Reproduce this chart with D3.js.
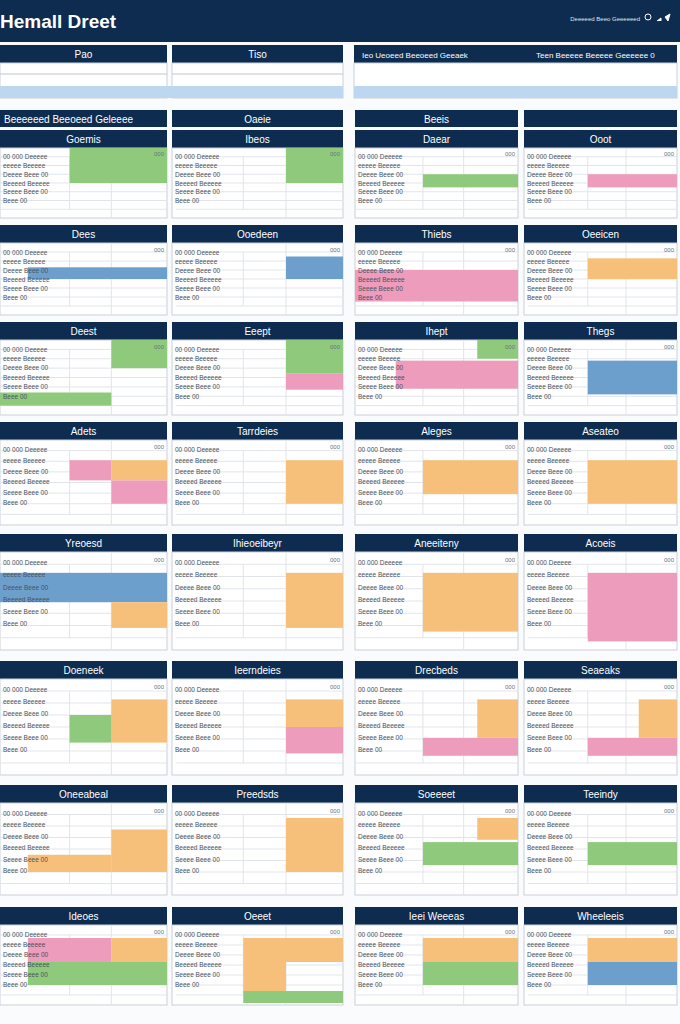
<!DOCTYPE html>
<html><head><meta charset="utf-8">
<script src="https://cdn.jsdelivr.net/npm/d3@7"></script>
<style>body{margin:0;background:#fff}svg{display:block}</style>
</head><body><div id="chart"></div>
<script>
// panel titles, row by row
const titles = [
  ["Goemis", "Ibeos", "Daear", "Ooot"],
  ["Dees", "Ooedeen", "Thiebs", "Oeeicen"],
  ["Deest", "Eeept", "Ihept", "Thegs"],
  ["Adets", "Tarrdeies", "Aleges", "Aseateo"],
  ["Yreoesd", "Ihieoeibeyr", "Aneeiteny", "Acoeis"],
  ["Doeneek", "Ieerndeies", "Drecbeds", "Seaeaks"],
  ["Oneeabeal", "Preedsds", "Soeeeet", "Teeindy"],
  ["Ideoes", "Oeeet", "Ieei Weeeas", "Wheeleeis"]
];
// coloured cells per panel: [col0, col1, row0, row1, colour] on a 12 x 8 grid
const cells = [
  [[[5,12,0,4,"g"]], [[8,12,0,4,"g"]], [[5,12,3,4.5,"g"]], [[5,12,3,4.5,"p"]]],
  [[[2,12,2.7,4,"b"]], [[8,12,1.5,4,"b"]], [[0,12,3,6.5,"p"]], [[5,12,1.7,4,"o"]]],
  [[[8,12,0,3,"g"],[0,8,5.6,7,"g"]], [[8,12,0,3.6,"g"],[8,12,3.6,5.3,"p"]], [[9,12,0,2,"g"],[3,12,2.2,5.2,"p"]], [[5,12,2.2,5.8,"b"]]],
  [[[5,8,1.9,3.8,"p"],[8,12,1.9,3.8,"o"],[8,12,3.8,6,"p"]], [[8,12,1.9,6,"o"]], [[5,12,1.9,5.1,"o"]], [[5,12,1.9,6,"o"]]],
  [[[0,12,1.7,4.1,"b"],[8,12,4.1,6.2,"o"]], [[8,12,1.7,6.2,"o"]], [[5,12,1.7,6.5,"o"]], [[5,12,1.7,7.3,"p"]]],
  [[[8,12,1.7,5.3,"o"],[5,8,3,5.3,"g"]], [[8,12,1.7,4,"o"],[8,12,4,6.2,"p"]], [[9,12,1.7,4.9,"o"],[5,12,4.9,6.4,"p"]], [[9,12,1.7,4.9,"o"],[5,12,4.9,6.4,"p"]]],
  [[[8,12,2.3,6,"o"],[2,8,4.5,6,"o"]], [[8,12,1.3,6,"o"]], [[9,12,1.3,3.2,"o"],[5,12,3.4,5.4,"g"]], [[5,12,3.4,5.4,"g"]]],
  [[[2,8,1.3,3.7,"p"],[8,12,1.3,3.7,"o"],[2,12,3.7,6,"g"]], [[5,12,1.3,3.7,"o"],[5,8,3.7,6.6,"o"],[5,12,6.6,7.8,"g"]], [[5,12,1.3,3.7,"o"],[5,12,3.7,6,"g"]], [[5,12,1.3,3.7,"o"],[5,12,3.7,6,"b"]]]
];
const topTitles = ["Pao", "Tiso"];
const wideTitles = ["Ieo Ueoeed Beeoeed Geeaek", "Teen Beeeee Beeeee Geeeeee 0"];
const sectionTitles = ["Beeeeeed Beeoeed Geleeee", "Oaeie", "Beeis", ""];
const fillers = ["00 000 Deeeee", "eeeee Beeeee", "Deeee Beee 00", "Beeeed Beeeee", "Seeee Beee 00", "Beee 00"];

const W = 680, H = 1024, navy = "#0d2c4f";
const palette = {g:"#8fca7c", p:"#ee9cbb", o:"#f7c07a", b:"#6d9fcd"};
const font = "Arial, Liberation Sans, sans-serif";
const colX = [[0,167],[172,343],[355,518],[524,677]];
const rowY = [[130,218],[225,315],[322,415],[422,525],[534,650],[661,775],[785,895],[907,1005]];

const svg = d3.select("#chart").append("svg").attr("width", W).attr("height", H);
svg.append("rect").attr("width", W).attr("height", H).attr("fill", "#fafbfc");

// title bar
svg.append("rect").attr("width", W).attr("height", 42).attr("fill", navy);
svg.append("text").attr("x", 0).attr("y", 28).attr("fill", "#fff").style("font-family", font)
  .style("font-size", "19px").style("font-weight", "bold").text("Hemall Dreet");
svg.append("text").attr("x", 640).attr("y", 21).attr("text-anchor", "end").attr("fill", "#dfe6ee")
  .style("font-family", font).style("font-size", "6px").text("Deeeeed  Beeo  Geeeeeed");
svg.append("circle").attr("cx", 648).attr("cy", 17).attr("r", 3).attr("fill", "none").attr("stroke", "#fff");
svg.append("path").attr("d", "M657,21 L661,18 L661,21 M665,17 L670,14 L668,21 Z").attr("fill", "#fff").attr("stroke", "#fff");

function header(x0, x1, y, h, text, anchor) {
  svg.append("rect").attr("x", x0).attr("y", y).attr("width", x1 - x0).attr("height", h).attr("fill", navy);
  svg.append("text").attr("x", anchor === "start" ? x0 + 4 : (x0 + x1) / 2).attr("y", y + h / 2 + 4)
    .attr("text-anchor", anchor || "middle").attr("fill", "#fff")
    .style("font-family", font).style("font-size", "10px").text(text);
}

// top summary panels
[[0,167],[172,343]].forEach((c, i) => {
  header(c[0], c[1], 45, 18, topTitles[i]);
  svg.append("rect").attr("x", c[0]).attr("y", 63).attr("width", c[1]-c[0]).attr("height", 35).attr("fill", "#fff").attr("stroke", "#c9d1da");
  svg.append("line").attr("x1", c[0]).attr("x2", c[1]).attr("y1", 74).attr("y2", 74).attr("stroke", "#bfc7d0");
});
svg.append("rect").attr("x", 0).attr("y", 86).attr("width", 343).attr("height", 12).attr("fill", "#bcd7ef");
header(354, 677, 45, 18, "", "start");
svg.append("text").attr("x", 362).attr("y", 58).attr("fill", "#fff").style("font-family", font).style("font-size", "8px").text(wideTitles[0]);
svg.append("text").attr("x", 536).attr("y", 58).attr("fill", "#fff").style("font-family", font).style("font-size", "8px").text(wideTitles[1]);
svg.append("rect").attr("x", 354).attr("y", 63).attr("width", 323).attr("height", 35).attr("fill", "#fff").attr("stroke", "#c9d1da");
svg.append("rect").attr("x", 354).attr("y", 86).attr("width", 323).attr("height", 12).attr("fill", "#bcd7ef");

// section bars
colX.forEach((c, i) => header(c[0], c[1], 110, 17, sectionTitles[i], i === 0 ? "start" : "middle"));

// panel grid
rowY.forEach((r, ri) => {
  colX.forEach((c, ci) => {
    const hh = 18;
    header(c[0], c[1], r[0], hh, titles[ri][ci]);
    const top = r[0] + hh, bot = r[1];
    const g = svg.append("g");
    g.append("rect").attr("x", c[0]).attr("y", top).attr("width", c[1]-c[0]).attr("height", bot-top)
      .attr("fill", "#fff").attr("stroke", "#c9d1da");
    const x = d3.scaleLinear().domain([0, 12]).range([c[0], c[1]]);
    const y = d3.scaleLinear().domain([0, 8]).range([top, bot]);
    // grid lines
    d3.range(1, 8).forEach(k => g.append("line").attr("x1", x(ci % 2 ? 0.3 : 0)).attr("x2", x(12))
      .attr("y1", y(k)).attr("y2", y(k)).attr("stroke", "#e1e5ea"));
    g.append("line").attr("x1", x(5)).attr("x2", x(5)).attr("y1", y(1)).attr("y2", y(7)).attr("stroke", "#e1e5ea");
    g.append("line").attr("x1", x(8)).attr("x2", x(8)).attr("y1", y(0)).attr("y2", y(8)).attr("stroke", "#e1e5ea");
    cells[ri][ci].forEach(d => g.append("rect").attr("x", x(d[0])).attr("y", y(d[2]))
      .attr("width", x(d[1]) - x(d[0])).attr("height", y(d[3]) - y(d[2])).attr("fill", palette[d[4]]));
    // text rows
    fillers.forEach((t, k) => g.append("text").attr("x", x(0) + 3).attr("y", y(k + 0.5) + 7)
      .attr("fill", "#4a5260").style("font-family", font).style("font-size", "6.5px").text(t));
    g.append("text").attr("x", x(12) - 3).attr("y", y(0.5) + 4).attr("text-anchor", "end")
      .attr("fill", "#6a7280").style("font-family", font).style("font-size", "6px").text("000");
  });
});
</script></body></html>
